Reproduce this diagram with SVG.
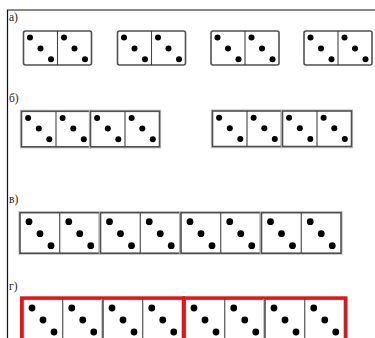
<svg xmlns="http://www.w3.org/2000/svg" xmlns:xlink="http://www.w3.org/1999/xlink" width="375" height="338" viewBox="0 0 375 338">
<style>
.lbl{font-family:"Liberation Serif","Times New Roman",serif;font-size:11.5px;fill:#222}
.frame{stroke:#111;stroke-width:1.2;fill:none}
.box{fill:#fff;stroke:#505050;stroke-width:1.6}
.halo{fill:none;stroke:#c8c8c8;stroke-width:3.4}
.div{stroke:#444;stroke-width:1.1}
.pip{fill:#000}
.red{fill:none;stroke:#ee1111;stroke-width:3}
</style>
<defs>
<g id="p34" class="pip"><circle cx="6.5" cy="6.5" r="3"/><circle cx="17" cy="17.5" r="3"/><circle cx="27.5" cy="28.3" r="3"/></g>
<g id="p35" class="pip"><circle cx="6.6" cy="6.8" r="3"/><circle cx="17.3" cy="17.3" r="3"/><circle cx="27.8" cy="28" r="3"/></g>
<g id="p40" class="pip"><circle cx="9" cy="9" r="3.4"/><circle cx="20" cy="21" r="3.4"/><circle cx="31" cy="33" r="3.4"/></g>
<g id="dA"><rect class="box" x="0" y="0" width="68" height="34" rx="2"/><line class="div" x1="34" y1="0" x2="34" y2="34"/><use xlink:href="#p34"/><use xlink:href="#p34" x="34"/></g>
<g id="dB"><rect class="halo" x="0" y="0" width="69" height="35.5"/><rect class="box" x="0" y="0" width="69" height="35.5"/><line class="div" x1="34.5" y1="0" x2="34.5" y2="35.5"/><use xlink:href="#p35"/><use xlink:href="#p35" x="34.5"/></g>
<g id="dC"><rect class="halo" x="0" y="0" width="79.5" height="40.5"/><rect class="box" x="0" y="0" width="79.5" height="40.5"/><line class="div" x1="39.75" y1="0" x2="39.75" y2="40.5"/><use xlink:href="#p40"/><use xlink:href="#p40" x="39.75"/></g>
</defs>
<g id="frame"><path class="frame" d="M7.5 338 V10 H375"/></g>
<g id="labels">
<text class="lbl" x="9" y="21">а)</text>
<text class="lbl" x="9" y="102">б)</text>
<text class="lbl" x="9" y="203">в)</text>
<text class="lbl" x="9" y="290">г)</text>
</g>
<g id="row-a">
<g id="a1"><use xlink:href="#dA" x="23.5" y="31"/></g>
<g id="a2"><use xlink:href="#dA" x="117.5" y="31"/></g>
<g id="a3"><use xlink:href="#dA" x="211" y="31"/></g>
<g id="a4"><use xlink:href="#dA" x="304" y="31"/></g>
</g>
<g id="row-b">
<g id="b1"><use xlink:href="#dB" x="21.5" y="111.3"/></g>
<g id="b2"><use xlink:href="#dB" x="90.5" y="111.3"/></g>
<g id="b3"><use xlink:href="#dB" x="212.5" y="111"/></g>
<g id="b4"><use xlink:href="#dB" x="282.5" y="111"/></g>
</g>
<g id="row-c">
<g id="c1"><use xlink:href="#dC" x="20" y="212.7"/></g>
<g id="c2"><use xlink:href="#dC" x="100.5" y="212.7"/></g>
<g id="c3"><use xlink:href="#dC" x="181" y="212.7"/></g>
<g id="c4"><use xlink:href="#dC" x="261.5" y="212.7"/></g>
</g>
<g id="row-d">
<g id="d1"><use xlink:href="#dC" x="23" y="299"/></g>
<g id="d2"><use xlink:href="#dC" x="103" y="299"/></g>
<g id="d3"><use xlink:href="#dC" x="185" y="299"/></g>
<g id="d4"><use xlink:href="#dC" x="265" y="299"/></g>
<g id="red-groups">
<rect class="red" x="21.5" y="297.8" width="162.3" height="50"/>
<rect class="red" x="183.8" y="297.8" width="162.2" height="50"/>
</g>
</g>
</svg>
